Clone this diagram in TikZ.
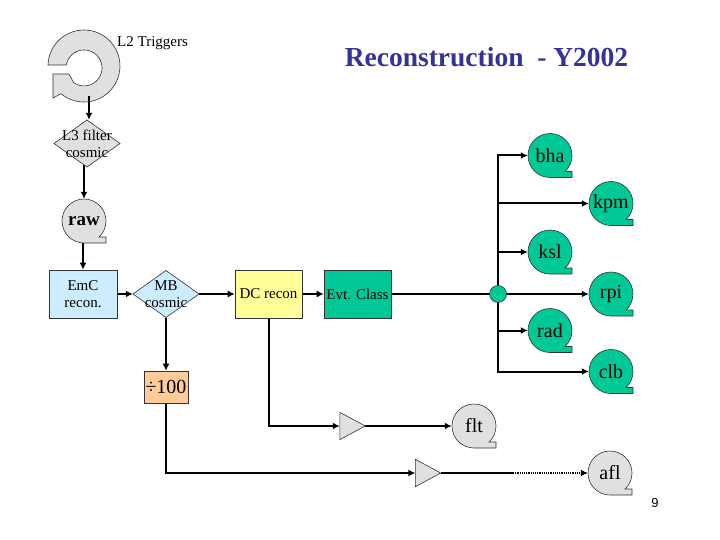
\documentclass[tikz,border=0pt]{standalone}
\usepackage{fontspec}
\setmainfont{Liberation Serif}
\newfontfamily\pagefont{Liberation Sans}
\usetikzlibrary{arrows.meta,shapes.geometric,calc}
\pgfdeclarelayer{background}
\pgfdeclarelayer{paper}
\pgfsetlayers{paper,background,main}
\definecolor{lgray}{RGB}{224,224,224}
\definecolor{lblue}{RGB}{204,236,255}
\definecolor{lyellow}{RGB}{255,255,153}
\definecolor{lorange}{RGB}{255,204,153}
\definecolor{tealfill}{RGB}{0,200,150}
\definecolor{titleblue}{RGB}{51,51,153}
% #1 name, #2 centre (x,y), #3 fill, #4 text
\newcommand\tapenode[4]{%
  \filldraw[outl, fill=#3] ($#2+(0,22)$) arc[start angle=90, end angle=406.7, radius=22]
    -- ++(6.91,0) -- ++(0,5.99) -- cycle;
  \node[tapetext] (#1) at #2 {#4};
}
% #1 name, #2 x, #3 y, #4 fill, #5 text
\newcommand\diamondnode[5]{%
  \filldraw[outl, fill=#4] (#2,#3-23.5) -- (#2+33,#3) -- (#2,#3+23.5) -- (#2-33,#3) -- cycle;
  \node[lbl, minimum width=66pt, minimum height=47pt] (#1) at (#2,#3) {#5};
}
\begin{document}
\begin{tikzpicture}[x=1pt,y=-1pt,
  outl/.style={draw=black!80, line width=0.6pt},
  conn/.style={line width=2pt, draw=black},
  arr/.style={conn, -{Latex[length=7pt,width=7pt]}},
  lbl/.style={font=\fontsize{15}{17}\selectfont, align=center, inner sep=0pt},
  boxnode/.style={outl, lbl, minimum width=68pt, minimum height=48pt},
  tapetext/.style={circle, minimum size=44pt, inner sep=0pt, font=\fontsize{20}{22}\selectfont},
  amp/.style={minimum width=25pt, minimum height=27pt, inner sep=0pt}]
\begin{pgfonlayer}{paper}
\fill[white] (0,0) rectangle (720,540);
\end{pgfonlayer}
\useasboundingbox (0,0) rectangle (720,540);

% circular arrow (L2 triggers)
\filldraw[outl, fill=lgray] (48,65) arc[start angle=181.6, end angle=489.6, radius=36]
  -- (53,98) -- (53,74) -- (69,74) -- (73.7,82.7)
  arc[start angle=125, end angle=-170.5, radius=18] -- cycle;
\coordinate (l2out) at (89,96);
\node[lbl, anchor=base west] (l2lbl) at (117,47) {L2 Triggers};

% title
\node[font=\fontsize{27.5}{30}\selectfont\bfseries, text=titleblue, anchor=base, inner sep=0pt]
  (title) at (486.5,67) {Reconstruction~ - Y2002};

% nodes
\diamondnode{l3}{87}{143.5}{lgray}{L3 filter\\cosmic}
\tapenode{raw}{(84,221)}{lgray}{\fontsize{19}{21}\selectfont\bfseries raw}
\node[boxnode, fill=lblue] (emc) at (83,294) {EmC\\recon.};
\diamondnode{mb}{166}{294}{lblue}{MB\\cosmic}
\node[boxnode, fill=lyellow, minimum width=67pt] (dc) at (268.5,294) {DC recon};
\node[boxnode, fill=tealfill, minimum width=67pt] (evt) at (357.5,294) {Evt. Class};
\node[outl, circle, fill=tealfill, minimum size=17pt, inner sep=0pt] (jn) at (498,294) {};
\tapenode{bha}{(550,155.5)}{tealfill}{bha}
\tapenode{kpm}{(611,203.5)}{tealfill}{kpm}
\tapenode{ksl}{(550,252)}{tealfill}{ksl}
\tapenode{rpi}{(611,294)}{tealfill}{rpi}
\tapenode{rad}{(550,330.5)}{tealfill}{rad}
\tapenode{clb}{(611,371.5)}{tealfill}{clb}
\node[outl, fill=lorange, minimum width=44pt, minimum height=32pt, inner sep=0pt,
  font=\fontsize{20}{22}\selectfont] (div) at (166,387) {÷100};
\node[amp] (t1) at (352.5,426) {};
\filldraw[outl, fill=lgray] (t1.north west) -- (t1.east) -- (t1.south west) -- cycle;
\node[amp] (t2) at (428,473) {};
\filldraw[outl, fill=lgray] (t2.north west) -- (t2.east) -- (t2.south west) -- cycle;
\tapenode{flt}{(474,426)}{lgray}{flt}
\tapenode{afl}{(610,473)}{lgray}{afl}
\coordinate (dotstart) at (513,473);
\node[font=\pagefont\fontsize{13}{15}\selectfont, inner sep=0pt] (pg) at (655,503) {9};

% connectors
\draw[arr] (l2out) -- (l2out |- l3.north);
\begin{pgfonlayer}{background}
\draw[arr] (l3.center -| raw.north) -- (raw.north);
\draw[arr] (raw.south -| emc.north) -- (emc.north);
\draw[arr] (emc.east) -- (mb.west);
\draw[arr] (mb.east) -- (dc.west);
\draw[arr] (dc.east) -- (evt.west);
\draw[conn] (evt.east) -- (jn.center);
\draw[arr] (jn.center) -- (rpi.west);
\draw[arr] (jn.center) |- (bha.west);
\draw[arr] (jn.center) |- (clb.west);
\draw[arr] (jn.center |- kpm.west) -- (kpm.west);
\draw[arr] (jn.center |- ksl.west) -- (ksl.west);
\draw[arr] (jn.center |- rad.west) -- (rad.west);
\draw[arr] (mb.south) -- (div.north);
\draw[arr] (dc.south) |- (t1.west);
\draw[arr] (t1.east) -- (flt.west);
\draw[arr] (div.south) |- (t2.west);
\draw[conn] (t2.east) -- (dotstart);
\draw[line width=1.2pt, densely dotted, -{Latex[length=7pt,width=7pt]}] (dotstart) -- (afl.west);
\end{pgfonlayer}
\end{tikzpicture}
\end{document}
